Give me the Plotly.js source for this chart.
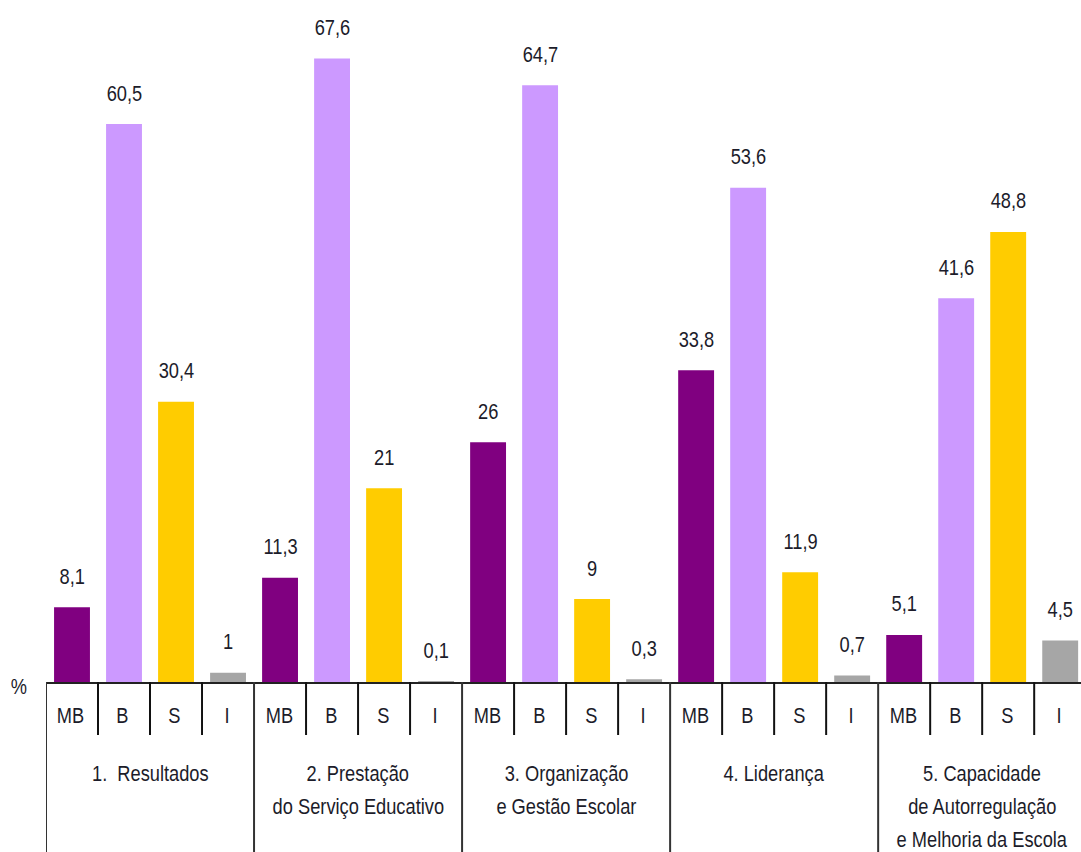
<!DOCTYPE html>
<html>
<head>
<meta charset="utf-8">
<script src="https://cdn.plot.ly/plotly-3.0.1.min.js"></script>
<style>
  html, body { margin: 0; padding: 0; background: #fff; }
  #chart { width: 1081px; height: 852px; }
  /* narrow lettering for every label */
  #chart .annotation-text {
    transform-box: fill-box;
    transform-origin: center;
    transform: scaleX(0.83);
  }
</style>
</head>
<body>
<div id="chart"></div>
<script>
// Evaluation domains (one entry per line) and the four rating levels
const domains = [
  ['1.  Resultados'],
  ['2. Prestação', 'do Serviço Educativo'],
  ['3. Organização', 'e Gestão Escolar'],
  ['4. Liderança'],
  ['5. Capacidade', 'de Autorregulação', 'e Melhoria da Escola']
];
const levels = ['MB', 'B', 'S', 'I'];

// Percentage per domain for each level
const valuesMB = [8.1, 11.3, 26, 33.8, 5.1];
const valuesB  = [60.5, 67.6, 64.7, 53.6, 41.6];
const valuesS  = [30.4, 21, 9, 11.9, 48.8];
const valuesI  = [1, 0.1, 0.3, 0.7, 4.5];

const series = [valuesMB, valuesB, valuesS, valuesI];
const colors = ['#800080', '#CC99FF', '#FFCC00', '#A6A6A6'];

const FONT = '"Liberation Sans", Arial, sans-serif';
const TEXT = '#1c1c2a';

// Slot position of each bar: domain index * 4 + level index
const slot = (d, l) => d * levels.length + l;

const traces = series.map((vals, l) => ({
  type: 'bar',
  name: levels[l],
  x: vals.map((_, d) => slot(d, l)),
  y: vals,
  width: 0.69,
  marker: { color: colors[l] },
  hoverinfo: 'skip'
}));

const fmt = v => String(v).replace('.', ',');

const annotations = [];
series.forEach((vals, l) => {
  vals.forEach((v, d) => {
    annotations.push({
      x: slot(d, l), y: v, xref: 'x', yref: 'y',
      text: fmt(v), showarrow: false,
      yanchor: 'middle', yshift: 31,
      font: { family: FONT, size: 22, color: TEXT }
    });
  });
});

// Table area under the axis: pixel rows converted to paper fractions
const plotTop = 18, plotBottom = 682, figH = 852;
const plotH = plotBottom - plotTop;
const py = p => (plotBottom - p) / plotH;

// Level labels under each bar
domains.forEach((_, d) => levels.forEach((lv, l) => {
  annotations.push({
    x: slot(d, l) - 0.02, y: py(715), xref: 'x', yref: 'paper',
    text: lv, showarrow: false, xanchor: 'center', yanchor: 'middle',
    font: { family: FONT, size: 22, color: TEXT }
  });
}));

// Domain names under each group of four, one annotation per line
const lineStep = 33;
domains.forEach((lines, d) => {
  lines.forEach((line, k) => {
    annotations.push({
      x: slot(d, 0) + 1.5, y: py(773 + k * lineStep), xref: 'x', yref: 'paper',
      text: line, showarrow: false, xanchor: 'center', yanchor: 'middle',
      font: { family: FONT, size: 22, color: TEXT }
    });
  });
});

annotations.push({
  x: (19 - 46) / 1035, y: py(686), xref: 'paper', yref: 'paper',
  text: '%', showarrow: false, xanchor: 'center', yanchor: 'middle',
  font: { family: FONT, size: 22, color: TEXT }
});

const shapes = [];
for (let d = 0; d <= domains.length; d++) {
  shapes.push({
    type: 'line', xref: 'x', yref: 'paper',
    x0: slot(d, 0) - 0.5, x1: slot(d, 0) - 0.5, y0: 0, y1: py(figH + 5),
    line: { color: '#333', width: 2 }
  });
  if (d < domains.length) {
    for (let l = 1; l < levels.length; l++) {
      shapes.push({
        type: 'line', xref: 'x', yref: 'paper',
        x0: slot(d, l) - 0.5, x1: slot(d, l) - 0.5, y0: 0, y1: py(735),
        line: { color: '#111', width: 2 }
      });
    }
  }
}

const layout = {
  width: 1081, height: 852,
  margin: { l: 46, r: 0, t: plotTop, b: figH - plotBottom, pad: 0 },
  paper_bgcolor: '#fff', plot_bgcolor: '#fff',
  barmode: 'overlay',
  showlegend: false,
  xaxis: {
    range: [-0.5, 19.4],
    showticklabels: false, ticks: '',
    showgrid: false, zeroline: false,
    showline: true, linecolor: '#222', linewidth: 2,
    fixedrange: true
  },
  yaxis: {
    range: [0, 72], visible: false, showgrid: false, zeroline: false, fixedrange: true
  },
  annotations: annotations,
  shapes: shapes
};

Plotly.newPlot('chart', traces, layout, { displayModeBar: false, staticPlot: true });
</script>
</body>
</html>
